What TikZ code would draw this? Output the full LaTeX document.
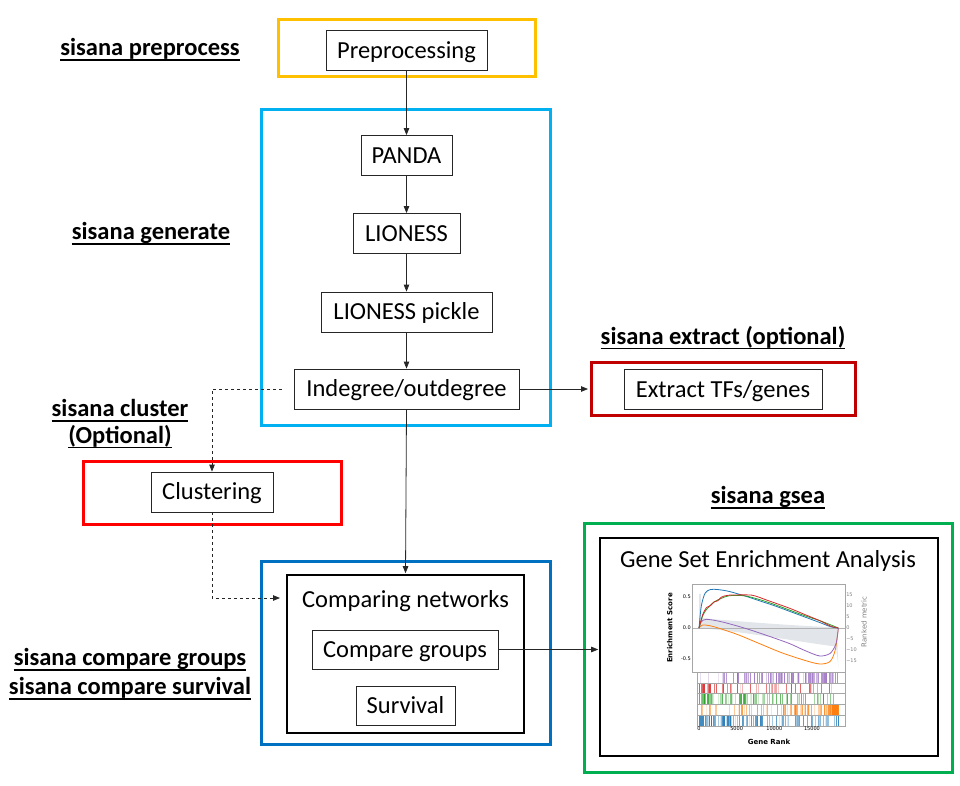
\documentclass[tikz,border=0pt]{standalone}
\usepackage{fontspec}
\setmainfont{Carlito}
\newfontfamily\dvs{DejaVu Sans}
\usetikzlibrary{arrows.meta}
\definecolor{cOrange}{HTML}{FFC000}
\definecolor{cLBlue}{HTML}{00B0F0}
\definecolor{cDRed}{HTML}{C00000}
\definecolor{cRed}{HTML}{FF0000}
\definecolor{cBlue}{HTML}{0070C0}
\definecolor{cGreen}{HTML}{00B050}
\definecolor{mBlue}{HTML}{1F77B4}
\definecolor{mOrange}{HTML}{FF7F0E}
\definecolor{mGreen}{HTML}{2CA02C}
\definecolor{mRed}{HTML}{D62728}
\definecolor{mPurple}{HTML}{9467BD}
\definecolor{mGray}{HTML}{E2E6EA}
\begin{document}
\begin{tikzpicture}[x=1pt,y=-1pt,
  stepbox/.style={draw=black!85, line width=0.8pt, font=\fontsize{24.5}{28}\selectfont, inner sep=0pt, minimum height=40pt, text height=15.5pt, text depth=0pt},
  groupbox/.style={line width=3pt, inner sep=0pt},
  innerbox/.style={draw=black, line width=1.8pt, inner sep=0pt},
  lbl/.style={font=\fontsize{24.5}{28}\selectfont\bfseries, inner sep=0pt},
  conn/.style={draw=black!85, line width=0.8pt, -{Triangle[length=7pt,width=5.5pt]}},
  tick/.style={font=\dvs\fontsize{5}{6}\selectfont, inner sep=1pt},
  axlbl/.style={font=\dvs\bfseries\fontsize{7}{8}\selectfont, inner sep=0pt}
]
\useasboundingbox (0,0) rectangle (960,786);

% group boxes
\node[groupbox, draw=cOrange, minimum width=257pt, minimum height=57pt] (gPre) at (406.5,48.5) {};
\node[groupbox, draw=cLBlue, minimum width=289pt, minimum height=315pt] (gGen) at (405.5,267.5) {};
\node[groupbox, draw=cDRed, minimum width=264pt, minimum height=53pt] (gExt) at (723,388.5) {};
\node[groupbox, draw=cRed, minimum width=258pt, minimum height=63pt] (gClu) at (212,492.5) {};
\node[groupbox, draw=cBlue, minimum width=289pt, minimum height=183pt] (gCmp) at (405.5,652.5) {};
\node[groupbox, draw=cGreen, minimum width=368pt, minimum height=249pt] (gGsea) at (768,647.5) {};

% step nodes
\node[stepbox, minimum width=161pt] (nPre) at (406.5,50.5) {Preprocessing};
\node[stepbox, minimum width=91pt] (nPanda) at (406.5,155.5) {PANDA};
\node[stepbox, minimum width=107pt] (nLion) at (406.5,233.5) {LIONESS};
\node[stepbox, minimum width=171pt] (nPick) at (406.5,312) {LIONESS pickle};
\node[stepbox, minimum width=225pt] (nIndeg) at (406.5,389) {Indegree/outdegree};
\node[stepbox, minimum width=198pt] (nExt) at (723,389.5) {Extract TFs/genes};
\node[stepbox, minimum width=122pt] (nClust) at (212,492) {Clustering};
\node[innerbox, minimum width=237pt, minimum height=158pt] (nComp) at (405.5,654) {};
\node[font=\fontsize{24.5}{28}\selectfont, inner sep=0pt] (tComp) at (405.5,601) {Comparing networks};
\node[stepbox, minimum width=186pt, minimum height=39pt] (nCG) at (405,649.5) {Compare groups};
\node[stepbox, minimum width=99pt, minimum height=39pt] (nSurv) at (405.5,705.5) {Survival};
\node[innerbox, minimum width=338pt, minimum height=218pt] (nGsea) at (769,647) {};
\node[font=\fontsize{24.5}{28}\selectfont, inner sep=0pt] (tGsea) at (768,561) {Gene Set Enrichment Analysis};

% labels
\node[lbl] (lPre) at (150,49) {sisana preprocess};
\node[lbl] (lGen) at (151,233) {sisana generate};
\node[lbl] (lExt) at (723,337) {sisana extract (optional)};
\node[lbl] (lClu1) at (120,408) {sisana cluster};
\node[lbl] (lClu2) at (120,436) {(Optional)};
\node[lbl] (lGsea) at (768,497) {sisana gsea};
\node[lbl] (lCmp1) at (130,659) {sisana compare groups};
\node[lbl] (lCmp2) at (130,688) {sisana compare survival};
\foreach \n in {lPre,lGen,lExt,lClu1,lClu2,lGsea,lCmp1,lCmp2}
  \draw[line width=1.6pt] ([yshift=-4.5pt]\n.base west) -- ([yshift=-4.5pt]\n.base east);

% connectors
\draw[conn] (nPre) -- (nPanda);
\draw[conn] (nPanda) -- (nLion);
\draw[conn] (nLion) -- (nPick);
\draw[conn] (nPick) -- (nIndeg);
\draw[conn, shorten >=1.5pt] (nIndeg.east) -- (nIndeg.east -| gExt.west);
\draw[conn, shorten >=0.9pt] (nIndeg.south) -- (nComp.north);
\coordinate (cA) at (282,389);
\coordinate (cB) at (280,598);
\draw[conn, dashed] (cA) -| (nClust.north);
\draw[conn, dashed] (nClust.south) |- (cB);
\draw[conn, shorten >=0.9pt] (nCG.east) -- (nCG.east -| nGsea.west);

% GSEA plot
\begin{scope}[shift={(699,628)}, x=7.53pt, y=62pt]
  \fill[mGray] (0,0) -- (0,0.55) -- (0.25,0.55) -- (0.3,0.16) .. controls (6,0.1) and (12,0.04) .. (18.3,0.01)
    -- (18.5,-0.62) -- (18.2,-0.3) .. controls (12,-0.2) and (6,-0.06) .. (0,0) -- cycle;
  \draw[gray!60, line width=0.4pt] (-0.93,0) -- (19.4,0);
  \draw[mOrange, line width=0.8pt] plot[smooth, tension=0.5] coordinates
    {(0,0) (0.5,0.05) (2,0.02) (5,-0.1) (8,-0.25) (11,-0.4) (14,-0.52) (16,-0.58) (17.4,-0.54) (18.1,-0.35) (18.5,0)};
  \draw[mPurple, line width=0.8pt] plot[smooth, tension=0.5] coordinates
    {(0,0) (0.3,0.1) (1,0.14) (3,0.1) (6,0) (9,-0.12) (12,-0.25) (14,-0.36) (16,-0.45) (17.4,-0.41) (18.2,-0.25) (18.5,0)};
  \draw[mBlue, line width=0.8pt] plot[smooth, tension=0.5] coordinates
    {(0,0) (0.3,0.35) (0.8,0.56) (1.5,0.62) (2.5,0.62) (4,0.59) (6,0.52) (8,0.44) (10,0.36) (12,0.27) (14,0.18) (16,0.09) (17.5,0.02) (18.5,0)};
  \draw[mGreen, line width=0.8pt] plot[smooth, tension=0.5] coordinates
    {(0,0) (0.5,0.2) (1,0.3) (2,0.42) (3,0.48) (4,0.52) (6,0.52) (8,0.46) (10,0.38) (12,0.29) (14,0.2) (16,0.12) (17.5,0.05) (18.5,0)};
  \draw[mRed, line width=0.8pt] plot[smooth, tension=0.4] coordinates
    {(0,0) (0.5,0.22) (1,0.33) (1.5,0.36) (2,0.42) (2.5,0.44) (3,0.5) (4,0.53) (7,0.53) (9,0.45) (12,0.32) (14,0.22) (16,0.12) (17.5,0.03) (18.5,0)};
  % stripes
  \pgfmathsetseed{7}
  \foreach \i in {1,...,110} {
    \pgfmathsetmacro\u{rnd}\pgfmathsetmacro\op{0.15+0.6*rnd}
    \pgfmathsetmacro\xx{18.5*sqrt(\u)}
    \draw[mPurple, opacity=\op, line width=0.35pt] (\xx,-0.715) -- (\xx,-0.879);}
  \foreach \i in {1,...,60} {
    \pgfmathsetmacro\u{rnd}\pgfmathsetmacro\op{0.15+0.6*rnd}
    \pgfmathsetmacro\xx{18.5*\u*\u}
    \draw[mRed, opacity=\op, line width=0.35pt] (\xx,-0.889) -- (\xx,-1.053);}
  \foreach \i in {1,...,100} {
    \pgfmathsetmacro\u{rnd}\pgfmathsetmacro\op{0.15+0.6*rnd}
    \pgfmathsetmacro\xx{18.5*\u^1.4}
    \draw[mGreen, opacity=\op, line width=0.35pt] (\xx,-1.063) -- (\xx,-1.227);}
  \foreach \i in {1,...,100} {
    \pgfmathsetmacro\u{rnd}\pgfmathsetmacro\op{0.15+0.6*rnd}
    \pgfmathsetmacro\xx{18.5*(1-\u*\u)}
    \draw[mOrange, opacity=\op, line width=0.35pt] (\xx,-1.237) -- (\xx,-1.401);}
  \fill[mOrange] (17.7,-1.237) rectangle (18.4,-1.401);
  \foreach \i in {1,...,120} {
    \pgfmathsetmacro\u{rnd}\pgfmathsetmacro\op{0.15+0.6*rnd}
    \pgfmathsetmacro\xx{18.5*\u^1.6}
    \draw[mBlue, opacity=\op, line width=0.35pt] (\xx,-1.411) -- (\xx,-1.575);}
  \fill[mBlue!85] (0.05,-1.411) rectangle (0.6,-1.575);
  % frames
  \draw[gray!70, line width=0.5pt] (-0.93,-0.71) rectangle (19.4,0.71);
  \foreach \yy in {-0.884,-1.058,-1.232,-1.406}
    \draw[gray!70, line width=0.4pt] (-0.27,\yy) -- (19.4,\yy);
  \draw[gray!70, line width=0.5pt] (-0.27,-0.71) rectangle (19.4,-1.58);
  % ticks
  \foreach \v/\t in {0.5/0.5,0/0.0,-0.5/-0.5}
    \node[tick, anchor=east] at (-0.93,\v) {\t};
  \foreach \v/\t in {15/15,10/10,5/5,0/0,-5/−5,-10/−10,-15/−15}
    \node[tick, anchor=west, text=gray] at (19.4,\v*0.0355) {\t};
  \foreach \v/\t in {0/0,5/5000,10/10000,15/15000}
    \node[tick, anchor=north] at (\v,-1.58) {\t};
  \node[axlbl, rotate=90] at (-3.9,0) {Enrichment Score};
  \node[axlbl, rotate=90, text=gray, font=\dvs\fontsize{7}{8}\selectfont] at (21.9,0.1) {Ranked metric};
  \node[axlbl] at (9.3,-1.84) {Gene Rank};
\end{scope}
\end{tikzpicture}
\end{document}
